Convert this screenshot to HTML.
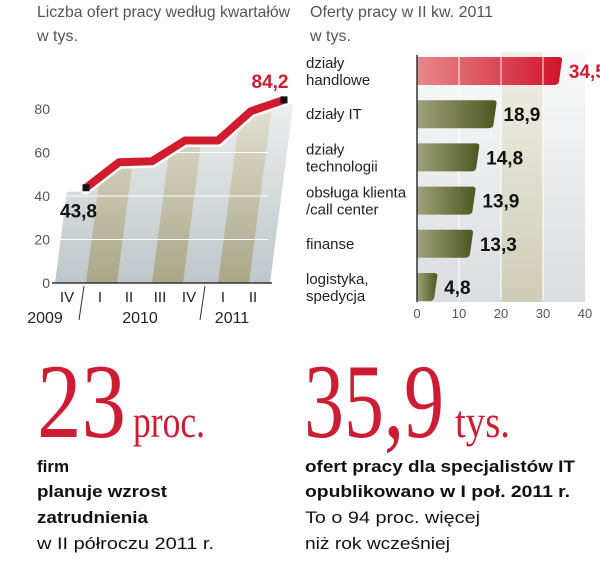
<!DOCTYPE html>
<html><head><meta charset="utf-8"><style>
html,body{margin:0;padding:0;background:#fff}
svg{display:block}
text{font-family:"Liberation Sans",sans-serif}
.big{font-family:"Liberation Serif",serif;fill:#cc1d35}
</style></head><body>
<svg id="s" width="600" height="573" viewBox="0 0 600 573" xmlns="http://www.w3.org/2000/svg">
<defs>
<linearGradient id="panelL" x1="0" y1="1" x2="0" y2="0"><stop offset="0" stop-color="#bfc7ca"/><stop offset="0.6" stop-color="#dde1e2"/><stop offset="1" stop-color="#f3f4f4"/></linearGradient>
<linearGradient id="olive" x1="0" y1="1" x2="0" y2="0"><stop offset="0" stop-color="#a9a787"/><stop offset="0.6" stop-color="#cfcdb8"/><stop offset="1" stop-color="#ebeae0"/></linearGradient>
<linearGradient id="panelR" x1="0" y1="0" x2="0" y2="1"><stop offset="0" stop-color="#fafafa"/><stop offset="1" stop-color="#d9dde0"/></linearGradient>
<linearGradient id="bandR" x1="0" y1="0" x2="0" y2="1"><stop offset="0" stop-color="#f0efe6"/><stop offset="1" stop-color="#cfcdb7"/></linearGradient>
<linearGradient id="redBar" x1="0" y1="0" x2="1" y2="0"><stop offset="0" stop-color="#e6898c"/><stop offset="1" stop-color="#d0142c"/></linearGradient>
<linearGradient id="oliveBar" x1="0" y1="0" x2="1" y2="0"><stop offset="0" stop-color="#a2a27c"/><stop offset="1" stop-color="#4c5721"/></linearGradient>
<clipPath id="under"><polygon id="underPoly" points="0,0"/></clipPath>
</defs>

<text x="37" y="17" font-size="16" fill="#555" textLength="253" lengthAdjust="spacingAndGlyphs">Liczba ofert pracy według kwartałów</text>
<text x="37" y="41" font-size="16" fill="#555">w tys.</text>
<text x="310" y="17" font-size="16" fill="#555" textLength="183" lengthAdjust="spacingAndGlyphs">Oferty pracy w II kw. 2011</text>
<text x="310" y="41" font-size="16" fill="#555">w tys.</text>

<g id="left"></g>
<g id="right"></g>

<g>
<text class="big" x="37" y="437" font-size="106" textLength="89" lengthAdjust="spacingAndGlyphs">23</text>
<text class="big" x="133" y="437" font-size="46" textLength="72" lengthAdjust="spacingAndGlyphs">proc.</text>
<text x="37" y="472" font-size="17" font-weight="bold" fill="#111">firm</text>
<text x="37" y="497" font-size="17" font-weight="bold" fill="#111" textLength="130" lengthAdjust="spacingAndGlyphs">planuje wzrost</text>
<text x="37" y="523" font-size="17" font-weight="bold" fill="#111" textLength="111" lengthAdjust="spacingAndGlyphs">zatrudnienia</text>
<text x="37" y="549" font-size="17" fill="#111" textLength="177" lengthAdjust="spacingAndGlyphs">w II półroczu 2011 r.</text>
</g>
<g>
<text class="big" x="304" y="437" font-size="106" textLength="140" lengthAdjust="spacingAndGlyphs">35,9</text>
<text class="big" x="455" y="437" font-size="46" textLength="55" lengthAdjust="spacingAndGlyphs">tys.</text>
<text x="305" y="472" font-size="17" font-weight="bold" fill="#111" textLength="270" lengthAdjust="spacingAndGlyphs">ofert pracy dla specjalistów IT</text>
<text x="305" y="497" font-size="17" font-weight="bold" fill="#111" textLength="265" lengthAdjust="spacingAndGlyphs">opublikowano w I poł. 2011 r.</text>
<text x="305" y="523" font-size="17" fill="#111" textLength="175" lengthAdjust="spacingAndGlyphs">To o 94 proc. więcej</text>
<text x="305" y="549" font-size="17" fill="#111" textLength="145" lengthAdjust="spacingAndGlyphs">niż rok wcześniej</text>
</g>
</svg>
<script>
// Left chart data
const quarters = ["IV","I","II","III","IV","I","II"];
const years = ["2009","2010","2011"];
const offers = [43.8, 55.5, 56, 65.5, 65.5, 79, 84.2];
const yTicks = [0,20,40,60,80];
// Right chart data
const sectors = [["działy","handlowe"],["działy IT"],["działy","technologii"],["obsługa klienta","/call center"],["finanse"],["logistyka,","spedycja"]];
const sectorValues = [34.5, 18.9, 14.8, 13.9, 13.3, 4.8];
const sectorLabels = ["34,5","18,9","14,8","13,9","13,3","4,8"];
const xTicks = [0,10,20,30,40];

const NS="http://www.w3.org/2000/svg";
function mk(tag, attrs, parent, txt){const e=document.createElementNS(NS,tag);for(const k in attrs)e.setAttribute(k,attrs[k]);if(txt!==undefined)e.textContent=txt;parent.appendChild(e);return e;}

// ---- left line chart
const L=document.getElementById('left');
const y0=283, ky=2.175;
const ly=v=>y0-ky*v;
const lx=i=>86+i*33;
const slant=0.13;
const n=offers.length;
let up=[`40,${y0}`,`40,${ly(offers[0])+4}`];
offers.forEach((v,i)=>up.push(`${lx(i)},${ly(v)+4}`));
up.push(`300,${ly(offers[n-1])+4}`,`300,${y0}`);
document.getElementById('underPoly').setAttribute('points',up.join(' '));
const clipG=mk('g',{'clip-path':'url(#under)'},L);


const H=200;
let p=mk('polygon',{points:`55,${y0} 270,${y0} ${270+slant*H},${y0-H} ${55+slant*H},${y0-H}`,fill:'url(#panelL)'},clipG);


[0,2,4].forEach(k=>{
  const xa=lx(k), xb=lx(k+1)-2;
  const c=mk('polygon',{points:`${xa},${y0} ${xb},${y0} ${xb+slant*H},${y0-H} ${xa+slant*H},${y0-H}`,fill:'url(#olive)'},clipG);
  
  
});
yTicks.forEach(t=>{
  if(t>0){const g=mk('line',{x1:55,x2:268,y1:ly(t),y2:ly(t),stroke:'#fff','stroke-width':1},clipG);
  
  }
  const tl=mk('text',{x:50,y:ly(t)+5,'font-size':14,fill:'#555','text-anchor':'end'},L,String(t));
  
  
});
const ax=mk('line',{x1:52,x2:272,y1:y0,y2:y0,stroke:'#333','stroke-width':1.5},L);


const pts=offers.map((v,i)=>`${lx(i)},${ly(v)}`).join(' ');
const halo=mk('polyline',{points:pts,fill:'none',stroke:'#fff','stroke-width':13,'stroke-linejoin':'round','stroke-linecap':'round'},L);


const line=mk('polyline',{points:pts,fill:'none',stroke:'#d01c2e','stroke-width':8,'stroke-linejoin':'round'},L);


[0,n-1].forEach(i=>{
  const m=mk('rect',{x:lx(i)-3.5,y:ly(offers[i])-3.5,width:7,height:7,fill:'#111'},L);
  
  
});
const f=mk('text',{x:60,y:ly(offers[0])+30,'font-size':19,'font-weight':'bold',fill:'#111'},L,offers[0].toFixed(1).replace('.',','));


const la=mk('text',{x:lx(n-1)-14,y:ly(offers[n-1])-12,'font-size':19,'font-weight':'bold',fill:'#cc1d35','text-anchor':'middle'},L,offers[n-1].toFixed(1).replace('.',','));


const qx=[67,100,129,160,189,223,253];
quarters.forEach((q,i)=>{
  const t=mk('text',{x:qx[i],y:302,'font-size':15,fill:'#222','text-anchor':'middle'},L,q);
  
  
});
const yx=[45,140,232];
years.forEach((yr,i)=>{
  const t=mk('text',{x:yx[i],y:323,'font-size':16,fill:'#222','text-anchor':'middle'},L,yr);
  
  
});
[[84,79],[205,200]].forEach(([a,b])=>{
  const s=mk('line',{x1:a,y1:286,x2:b,y2:320,stroke:'#333','stroke-width':1},L);
  
  
});

// ---- right bar chart
const R=document.getElementById('right');
const rx=v=>417+4.2*v;
const rowY=i=>71+i*43.2;
let bg=mk('rect',{x:rx(0),y:52,width:rx(40)-rx(0),height:250,fill:'url(#panelR)'},R);


let band=mk('rect',{x:rx(20),y:52,width:rx(30)-rx(20),height:250,fill:'url(#bandR)'},R);


[10,20,30].forEach(t=>{
  const g=mk('line',{x1:rx(t),x2:rx(t),y1:55,y2:300,stroke:'#fff','stroke-width':1.2,'stroke-opacity':0.85},R);
  
  
});
xTicks.forEach(t=>{
  const tl=mk('text',{x:rx(t),y:318,'font-size':13,fill:'#555','text-anchor':'middle'},R,String(t));
  
  
});
sectorValues.forEach((v,i)=>{
  const cy=rowY(i), h=28, x0=rx(0), x1=rx(v);
  const d=`M${x0},${cy-h/2} L${x1-3},${cy-h/2} Q${x1+1},${cy-h/2} ${x1},${cy-h/2+4} L${x1-3},${cy+h/2-3} Q${x1-4},${cy+h/2} ${x1-8},${cy+h/2} L${x0},${cy+h/2} Z`;
  const b=mk('path',{d:d,fill:i===0?'url(#redBar)':'url(#oliveBar)'},R);
  
  
  if(i===0){[10,20,30].forEach(t=>{if(rx(t)<x1-2){const g=mk('line',{x1:rx(t),x2:rx(t),y1:cy-h/2,y2:cy+h/2,stroke:'#fff','stroke-width':1.2,'stroke-opacity':0.8},R);
    
    }});}
  const vl=mk('text',{x:x1+7,y:cy+7,'font-size':19,'font-weight':'bold',fill:i===0?'#cc1d35':'#111'},R,sectorLabels[i]);
  
  
  const lines=sectors[i];
  lines.forEach((ln,k)=>{
    const ty=lines.length===1?cy+5:cy-3+k*17;
    const t=mk('text',{x:306,y:ty,'font-size':15,fill:'#222'},R,ln);
    
    
  });
});
const ya=mk('line',{x1:rx(0),x2:rx(0),y1:55,y2:302,stroke:'#333','stroke-width':1.5},R);


</script>
</body></html>
